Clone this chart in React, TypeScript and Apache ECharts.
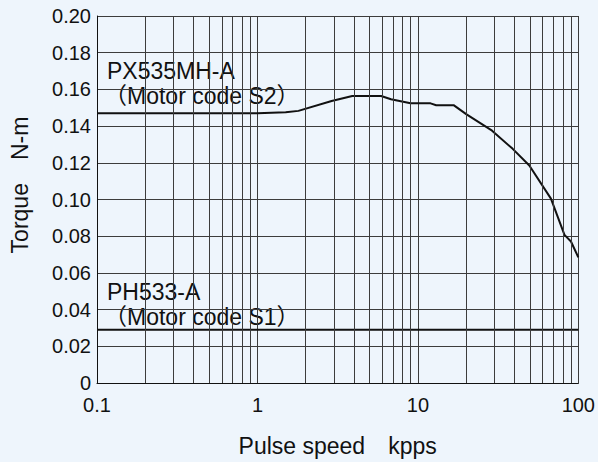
import React, { useEffect, useRef } from "react";
import * as echarts from "echarts";

const pxSpeed = [0.1, 1, 1.5, 1.8, 2.9, 3.9, 5.9, 6.8, 9, 12, 13, 16.7, 20, 29, 39, 49.5, 67.5, 82, 90, 100];
const pxTorque = [0.147, 0.147, 0.1475, 0.1483, 0.1537, 0.1564, 0.1564, 0.1546, 0.1524, 0.1524, 0.1514, 0.1514, 0.1465, 0.1375, 0.1276, 0.1185, 0.1005, 0.0807, 0.0771, 0.0685];
const phSpeed = [0.1, 100];
const phTorque = [0.029, 0.029];
const xTickLabels = ["0.1", "1", "10", "100"];
const minorGridX = [0.2, 0.3, 0.4, 0.5, 0.6, 0.7, 0.8, 0.9, 2, 3, 4, 5, 6, 7, 8, 9, 20, 30, 40, 50, 60, 70, 80, 90];
const seriesLabels = [
  { name: "PX535MH-A", code: "（Motor code S2）" },
  { name: "PH533-A", code: "（Motor code S1）" },
];
const xName = "Pulse speed　kpps";
const yName = "Torque　N-m";

const FONT = "'Liberation Sans', Arial, 'Noto Sans CJK JP', sans-serif";
const TEXT = "#111";
const GRID = "#3c3c3c";

export default function App() {
  const ref = useRef<HTMLDivElement>(null);
  useEffect(() => {
    document.body.style.margin = "0";
    const chart = echarts.init(ref.current!, null, { renderer: "svg" });
    const pxData = pxSpeed.map((s, i) => [s, pxTorque[i]]);
    const phData = phSpeed.map((s, i) => [s, phTorque[i]]);
    chart.setOption({
      animation: false,
      backgroundColor: "#eef5fc",
      textStyle: { fontFamily: FONT },
      grid: { left: 97, top: 16, right: 19, bottom: 76, containLabel: false },
      xAxis: {
        type: "log",
        logBase: 10,
        min: 0.1,
        max: 100,
        name: xName,
        nameLocation: "middle",
        nameGap: 51,
        nameTextStyle: { fontSize: 23, color: TEXT, fontFamily: FONT },
        axisLine: { show: true, lineStyle: { color: "#111", width: 1 } },
        axisTick: { show: false },
        axisLabel: {
          fontSize: 20,
          color: TEXT,
          margin: 12,
          fontFamily: FONT,
          formatter: (v: number) => {
            const idx = Math.round(Math.log10(v)) + 1;
            return xTickLabels[idx] ?? String(v);
          },
        },
        splitLine: { show: true, lineStyle: { color: GRID, width: 1 } },
      },
      yAxis: {
        type: "value",
        min: 0,
        max: 0.2,
        interval: 0.02,
        axisLine: { show: true, lineStyle: { color: "#111", width: 1 } },
        axisTick: { show: false },
        axisLabel: {
          fontSize: 20,
          color: TEXT,
          margin: 6,
          fontFamily: FONT,
          formatter: (v: number) => (v === 0 ? "0" : v.toFixed(2)),
        },
        splitLine: { show: true, lineStyle: { color: GRID, width: 1 } },
      },
      series: [
        {
          type: "line",
          name: seriesLabels[1].name,
          data: phData,
          showSymbol: false,
          symbol: "none",
          lineStyle: { color: "#111", width: 2 },
          silent: true,
          markLine: {
            silent: true,
            symbol: "none",
            label: { show: false },
            lineStyle: { color: GRID, width: 1, type: "solid" },
            data: minorGridX.map((x) => ({ xAxis: x })),
          },
          z: 3,
        },
        {
          type: "line",
          name: seriesLabels[0].name,
          data: pxData,
          showSymbol: false,
          symbol: "none",
          lineStyle: { color: "#111", width: 2 },
          silent: true,
          z: 3,
        },
      ],
      graphic: [
        {
          type: "text",
          x: 20,
          y: 185,
          rotation: Math.PI / 2,
          style: { text: yName, font: `23px ${FONT}`, fill: TEXT, align: "center", verticalAlign: "middle" },
        },
        { type: "text", left: 107, top: 59, style: { text: seriesLabels[0].name, font: `23px ${FONT}`, fill: TEXT } },
        { type: "text", left: 104, top: 84, style: { text: seriesLabels[0].code, font: `23px ${FONT}`, fill: TEXT } },
        { type: "text", left: 107, top: 280, style: { text: seriesLabels[1].name, font: `23px ${FONT}`, fill: TEXT } },
        { type: "text", left: 104, top: 305, style: { text: seriesLabels[1].code, font: `23px ${FONT}`, fill: TEXT } },
      ],
    });
    return () => chart.dispose();
  }, []);
  return <div ref={ref} style={{ width: 598, height: 462 }} />;
}
